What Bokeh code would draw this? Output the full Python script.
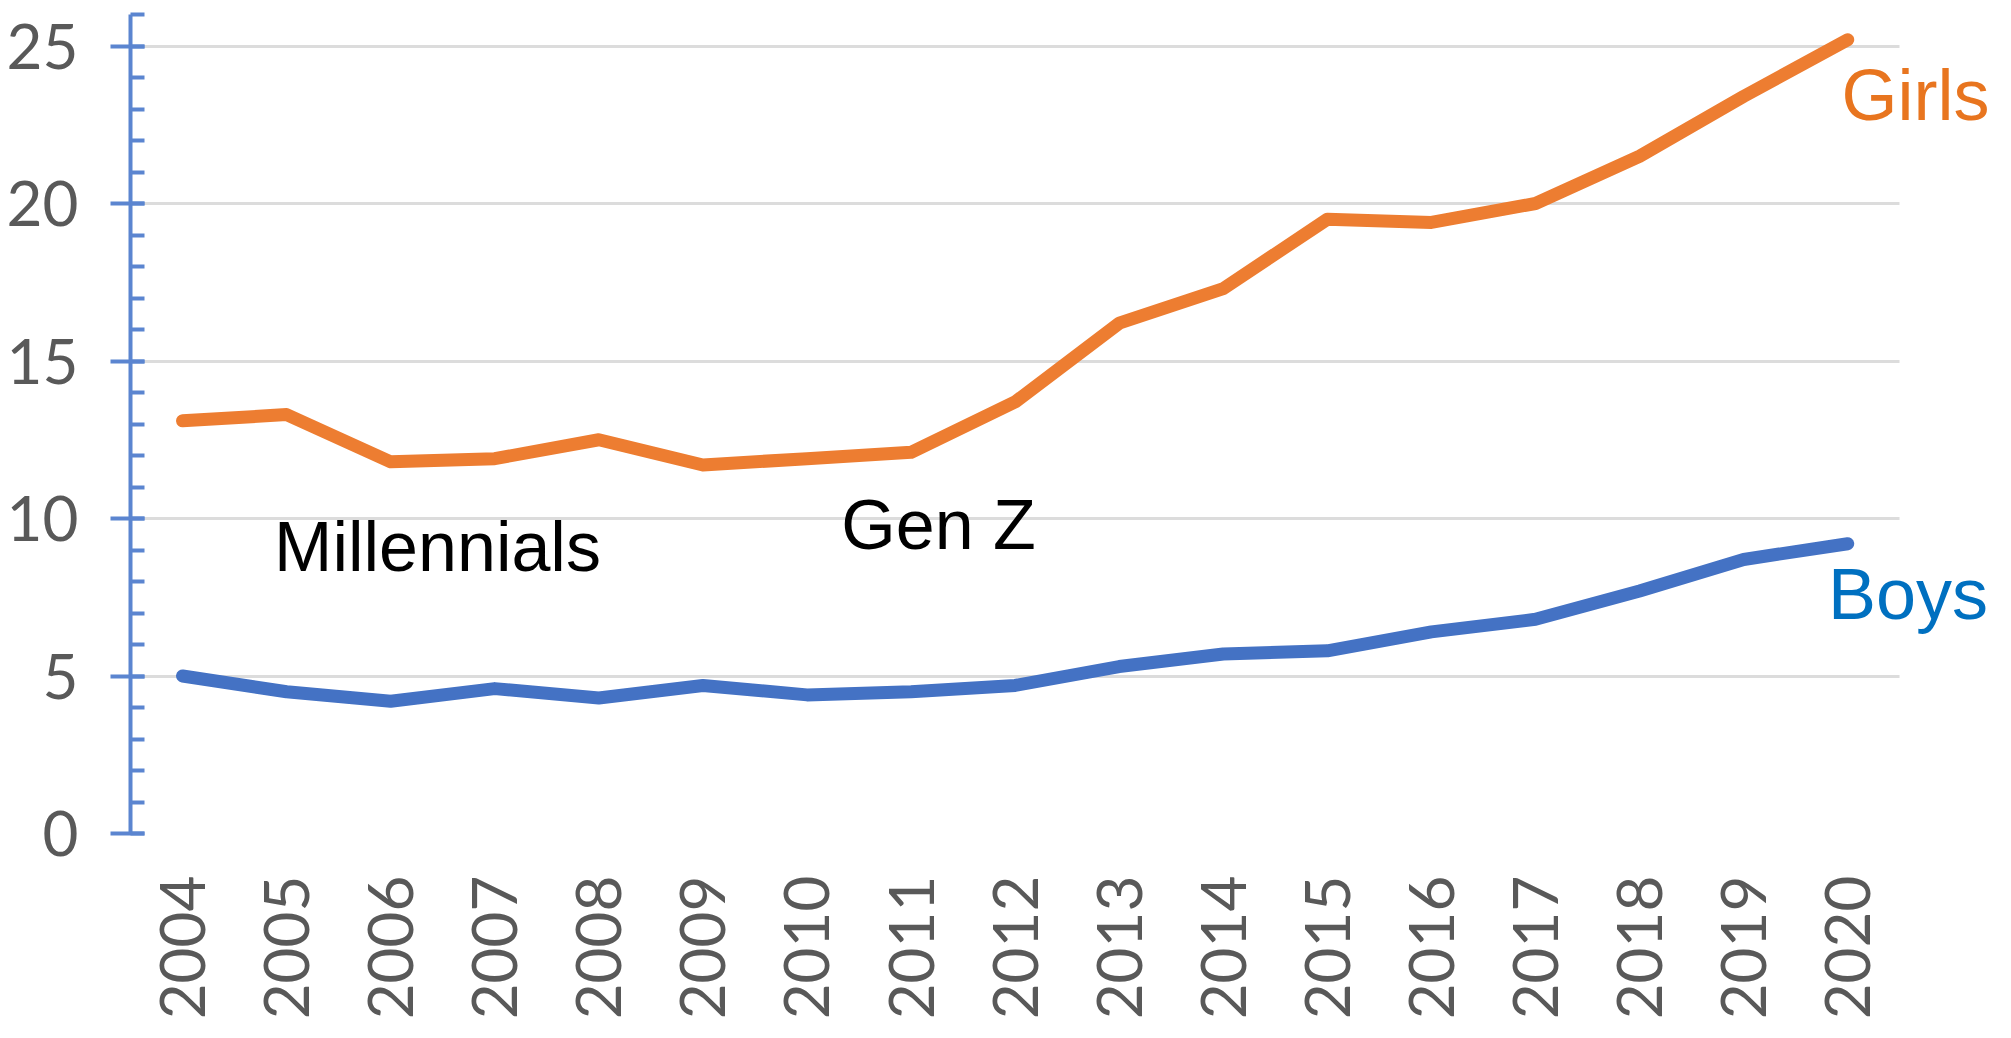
import math
from bokeh.plotting import figure
from bokeh.models import Label, SingleIntervalTicker, FixedTicker
from bokeh.embed import file_html
from bokeh.resources import INLINE

years = list(range(2004, 2021))
girls = [13.1, 13.3, 11.8, 11.9, 12.5, 11.7, 11.9, 12.1, 13.7, 16.2, 17.3, 19.5, 19.4, 20.0, 21.5, 23.4, 25.2]
boys = [5.0, 4.5, 4.2, 4.6, 4.3, 4.7, 4.4, 4.5, 4.7, 5.3, 5.7, 5.8, 6.4, 6.8, 7.7, 8.7, 9.2]
y_ticks = [0, 5, 10, 15, 20, 25]

W, H = 1995, 1022
p = figure(width=W, height=H, output_backend="svg", toolbar_location=None,
           x_range=(2003.5, 2021.42), y_range=(0, 26),
           min_border_left=130, min_border_right=0, min_border_top=14, min_border_bottom=187)
p.outline_line_color = None
p.background_fill_color = "white"
p.border_fill_color = "white"

# grid
p.xgrid.grid_line_color = None
p.ygrid.ticker = FixedTicker(ticks=y_ticks)
p.ygrid.grid_line_color = "#dcdcdc"
p.ygrid.grid_line_width = 3
p.ygrid.cross_bounds = (2003.5, 2020.5)

# y axis
ya = p.yaxis[0]
ya.ticker = SingleIntervalTicker(interval=5, num_minor_ticks=5)
ya.axis_line_color = "#5B85D0"
ya.axis_line_width = 4
ya.major_tick_line_color = "#5B85D0"
ya.major_tick_line_width = 4
ya.major_tick_out = 20
ya.major_tick_in = 14
ya.minor_tick_line_color = "#5B85D0"
ya.minor_tick_line_width = 4
ya.minor_tick_out = 0
ya.minor_tick_in = 14
ya.major_label_text_font = "Lato"
ya.major_label_text_font_size = "62px"
ya.major_label_text_color = "#595959"
ya.major_label_standoff = 32

# x axis
xa = p.xaxis[0]
xa.ticker = FixedTicker(ticks=years)
xa.axis_line_color = None
xa.major_tick_line_color = None
xa.minor_tick_line_color = None
xa.major_tick_out = 0
xa.major_tick_in = 0
xa.major_label_orientation = math.pi / 2
xa.major_label_text_font = "Lato"
xa.major_label_text_font_size = "62px"
xa.major_label_text_color = "#595959"
xa.major_label_standoff = 42

p.line(years, girls, line_color="#ED7D31", line_width=13, line_cap="round", line_join="round")
p.line(years, boys, line_color="#4472C4", line_width=13, line_cap="round", line_join="round")

def lab(x, y, t, color, size):
    p.add_layout(Label(x=x, y=y, text=t, text_color=color, text_font="Liberation Sans",
                       text_font_size=size, text_baseline="alphabetic", text_align="left"))

lab(2004.88, 9.08, "Millennials", "black", "70px")
lab(2010.33, 9.79, "Gen Z", "black", "70px")
lab(2019.94, 23.44, "Girls", "#E8751F", "72px")
lab(2019.81, 7.60, "Boys", "#0070C0", "72px")

open("out.html", "w").write(file_html(p, INLINE))
